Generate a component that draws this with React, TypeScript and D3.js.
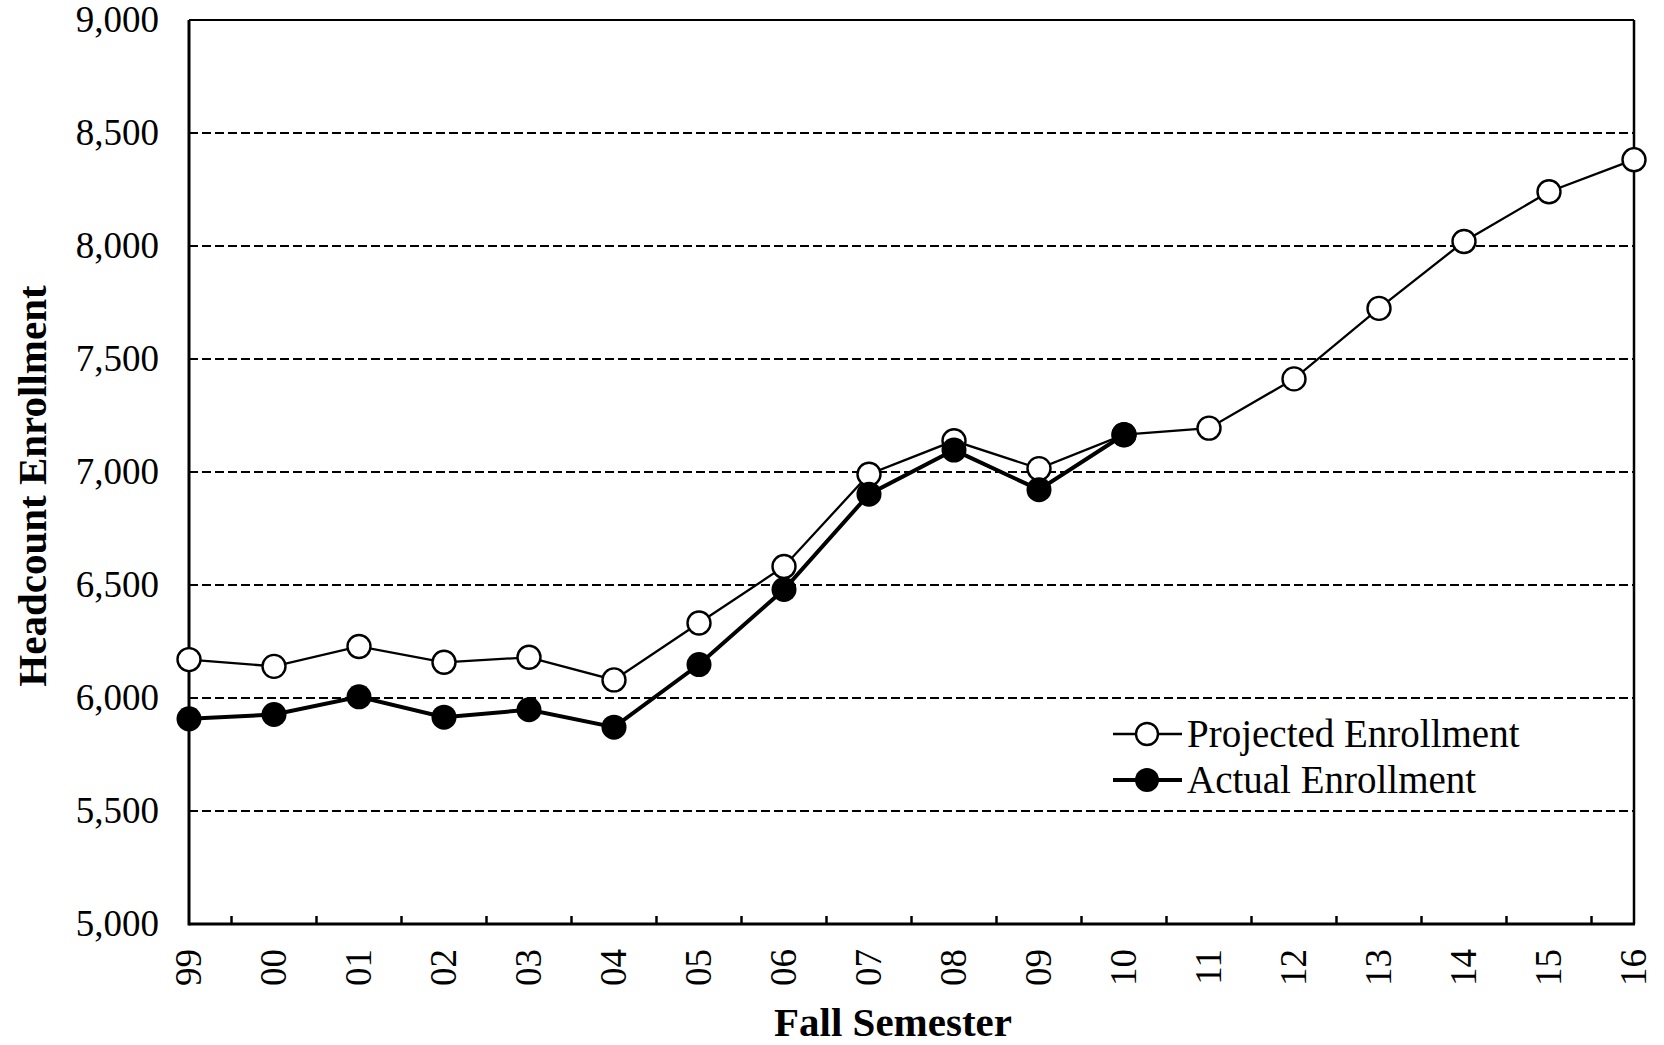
import React from "react";
import * as d3 from "d3";

const categories = ["99","00","01","02","03","04","05","06","07","08","09","10","11","12","13","14","15","16"];
const projected = [6170,6140,6228,6158,6180,6080,6332,6582,6990,7138,7015,7165,7194,7412,7724,8020,8240,8382];
const actual = [5908,5927,6005,5915,5948,5871,6148,6480,6902,7097,6922,7165];
const yTicks = [5000,5500,6000,6500,7000,7500,8000,8500,9000];

const W = 1664, H = 1045;
const L = 189, R = 1634, T = 20, B = 924;
const FONT = "'Liberation Serif', 'Times New Roman', serif";

export default function App() {
  const x = d3.scalePoint<string>().domain(categories).range([L, R]);
  const y = d3.scaleLinear().domain([5000, 9000]).range([B, T]);
  const line = d3.line<number>().x((_, i) => x(categories[i])!).y(d => y(d));
  const fmt = d3.format(",");
  const step = x.step();
  return (
    <svg width={W} height={H} style={{ position: "fixed", left: 0, top: 0, background: "#fff" }}>
      {yTicks.map(t => (
        <g key={t}>
          {t > 5000 && (
            <line x1={L} x2={R} y1={y(t)} y2={y(t)} stroke="#000" strokeWidth={2} strokeDasharray="9,4" />
          )}
          <text x={159} y={y(t)} dy="0.33em" textAnchor="end" fontFamily={FONT} fontSize={37}>{fmt(t)}</text>
        </g>
      ))}
      {categories.slice(0, -1).map((c, i) => (
        <line key={c} x1={x(c)! + step / 2} x2={x(c)! + step / 2} y1={B} y2={B - 8} stroke="#000" strokeWidth={2.5} />
      ))}
      <line x1={L} x2={R} y1={T} y2={T} stroke="#000" strokeWidth={2} />
      <line x1={R} x2={R} y1={T} y2={B} stroke="#000" strokeWidth={2.5} />
      <line x1={L} x2={L} y1={T} y2={B + 1.5} stroke="#000" strokeWidth={3} />
      <line x1={L} x2={R + 1} y1={B} y2={B} stroke="#000" strokeWidth={3} />
      {categories.map(c => (
        <text key={c} transform={`translate(${x(c)},${949}) rotate(-90)`} dy="0.33em" textAnchor="end" fontFamily={FONT} fontSize={37}>{c}</text>
      ))}
      <path d={line(projected)!} fill="none" stroke="#000" strokeWidth={2.3} />
      {projected.map((v, i) => (
        <circle key={"p" + i} cx={x(categories[i])} cy={y(v)} r={11.5} fill="#fff" stroke="#000" strokeWidth={2.4} />
      ))}
      <path d={line(actual)!} fill="none" stroke="#000" strokeWidth={4} />
      {actual.map((v, i) => (
        <circle key={"a" + i} cx={x(categories[i])} cy={y(v)} r={12.5} fill="#000" />
      ))}
      <text transform={`translate(46,486) rotate(-90)`} textAnchor="middle" fontFamily={FONT} fontSize={41} fontWeight="bold">Headcount Enrollment</text>
      <text x={893} y={1036} textAnchor="middle" fontFamily={FONT} fontSize={41} fontWeight="bold">Fall Semester</text>
      <g>
        <line x1={1113} x2={1182} y1={734} y2={734} stroke="#000" strokeWidth={2.3} />
        <circle cx={1147} cy={734} r={11} fill="#fff" stroke="#000" strokeWidth={2.4} />
        <text x={1187} y={734} dy="0.33em" fontFamily={FONT} fontSize={39}>Projected Enrollment</text>
        <line x1={1113} x2={1182} y1={780} y2={780} stroke="#000" strokeWidth={4} />
        <circle cx={1147} cy={780} r={12} fill="#000" />
        <text x={1187} y={780} dy="0.33em" fontFamily={FONT} fontSize={39}>Actual Enrollment</text>
      </g>
    </svg>
  );
}
